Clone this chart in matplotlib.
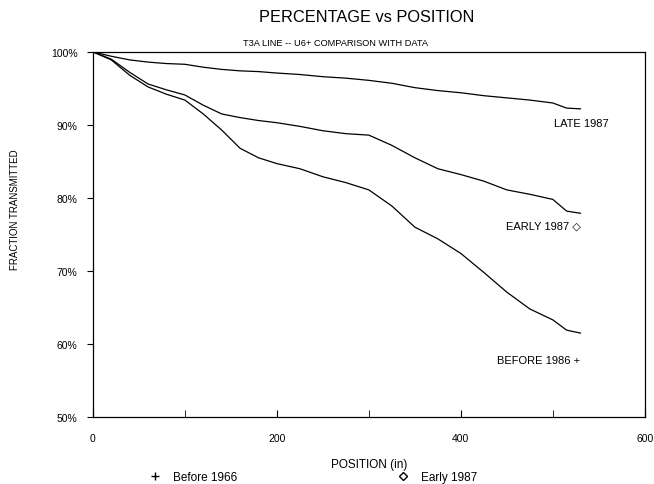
import matplotlib
matplotlib.use('Agg')
import matplotlib.pyplot as plt
from matplotlib.lines import Line2D
from matplotlib.ticker import FuncFormatter

plt.rcParams['font.family'] = ['Liberation Sans', 'DejaVu Sans']

position = [0, 20, 40, 60, 80, 100, 120, 140, 160, 180, 200, 225, 250, 275,
            300, 325, 350, 375, 400, 425, 450, 475, 500, 515, 530]
late_1987 = [100, 99.4, 98.9, 98.6, 98.4, 98.3, 97.9, 97.6, 97.4, 97.3, 97.1, 96.9,
             96.6, 96.4, 96.1, 95.7, 95.1, 94.7, 94.4, 94.0, 93.7, 93.4, 93.0, 92.3, 92.2]
early_1987 = [100, 99.0, 97.2, 95.6, 94.8, 94.1, 92.7, 91.5, 91.0, 90.6, 90.3, 89.8,
              89.2, 88.8, 88.6, 87.2, 85.5, 84.0, 83.2, 82.3, 81.1, 80.5, 79.8, 78.2, 77.9]
before_1986 = [100, 98.9, 96.8, 95.2, 94.2, 93.4, 91.5, 89.3, 86.8, 85.5, 84.7, 84.0,
               82.9, 82.1, 81.1, 78.9, 76.0, 74.4, 72.4, 69.8, 67.1, 64.8, 63.3, 61.9, 61.5]

curve_labels = ['LATE 1987', 'EARLY 1987 \u25c7', 'BEFORE 1986 +']
label_pos = [(531, 90.2), (490, 76.2), (484, 57.8)]

fig = plt.figure(figsize=(6.54, 4.85), dpi=100)
ax = fig.add_axes([0.142, 0.138, 0.844, 0.753])

for ys in (late_1987, early_1987, before_1986):
    ax.plot(position, ys, color='black', linewidth=0.9)

for txt, (x, y) in zip(curve_labels, label_pos):
    ax.text(x, y, txt, ha='center', va='center', fontsize=8)

ax.set_xlim(0, 600)
ax.set_ylim(50, 100)
ax.set_xticks([0, 200, 400, 600])
ax.set_xticks([100, 300, 500], minor=True)
ax.set_yticks([50, 60, 70, 80, 90, 100])
ax.yaxis.set_major_formatter(FuncFormatter(lambda v, p: f'{v:.0f}%'))
ax.tick_params(axis='x', direction='in', length=5, labelsize=7.5, pad=11.5)
ax.tick_params(axis='x', which='minor', direction='in', length=5)
ax.tick_params(axis='y', direction='out', length=4, labelsize=7.5, pad=7)
for s in ax.spines.values():
    s.set_linewidth(0.9)

ax.set_xlabel('POSITION (in)', fontsize=8.5, labelpad=11)
ax.set_ylabel('FRACTION TRANSMITTED', fontsize=7)
ax.yaxis.set_label_coords(-0.132, 0.57)

fig.text(0.56, 0.963, 'PERCENTAGE vs POSITION', ha='center', va='center', fontsize=11.8)
fig.text(0.513, 0.911, 'T3A LINE -- U6+ COMPARISON WITH DATA', ha='center', va='center', fontsize=6.7)

handles = [Line2D([], [], linestyle='none', marker='+', color='black', markersize=6),
           Line2D([], [], linestyle='none', marker='D', markerfacecolor='none',
                  markeredgecolor='black', markersize=4)]
fig.legend(handles, ['Before 1966', 'Early 1987'], loc='center', bbox_to_anchor=(0.474, 0.0135),
           ncol=2, frameon=False, fontsize=8.5, columnspacing=13, handletextpad=0.53,
           borderpad=0)

fig.savefig('out.png', dpi=100)
